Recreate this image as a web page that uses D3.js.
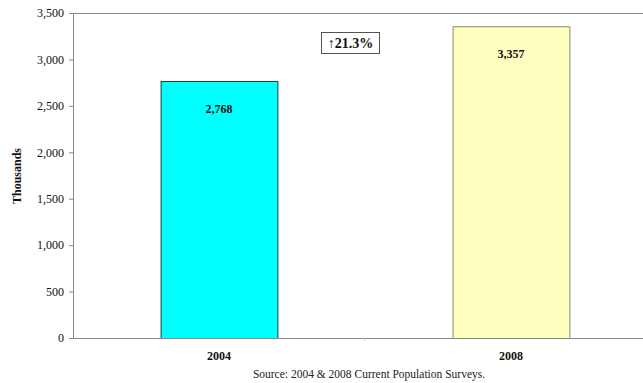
<!DOCTYPE html>
<html><head><meta charset="utf-8">
<script src="https://cdn.jsdelivr.net/npm/d3@7"></script>
<style>body{margin:0;background:#fff}svg{display:block}</style>
</head><body>
<svg id="c" width="643" height="383"></svg>
<script>
const categories = ["2004", "2008"];
const values = [2768, 3357];
const valueLabels = ["2,768", "3,357"];
const yTicks = [0, 500, 1000, 1500, 2000, 2500, 3000, 3500];
const annotation = "\u219121.3%";
const yTitle = "Thousands";
const source = "Source: 2004 & 2008 Current Population Surveys.";
const fills = ["#00FFFF", "#FFFFC0"];
const strokes = ["#1a3a3a", "#8a8a6a"];
const FONT = "'Liberation Serif', 'Times New Roman', 'DejaVu Serif', serif";

const svg = d3.select("#c");
const m = {l: 73, t: 13, r: 657, b: 338};
const x = d3.scaleBand().domain(categories).range([m.l, m.r]).paddingInner(0.6).paddingOuter(0.3);
const xb = d3.scaleBand().domain(categories).range([m.l, m.r]);
const y = d3.scaleLinear().domain([0, 3500]).range([m.b, m.t]);

svg.append("line").attr("x1", m.l).attr("x2", 643).attr("y1", m.t + 0.5).attr("y2", m.t + 0.5).attr("stroke", "#888");

const ya = svg.append("g").attr("transform", `translate(${m.l},0)`)
  .call(d3.axisLeft(y).tickValues(yTicks).tickSize(4).tickFormat(d3.format(",")));
ya.attr("font-family", null);
ya.select(".domain").attr("stroke", "#888");
ya.selectAll(".tick line").attr("stroke", "#888");
ya.selectAll(".tick text").attr("font-size", 12).attr("fill", "#111").attr("x", -9);

svg.selectAll("rect.bar").data(values).join("rect").attr("class", "bar")
  .attr("x", (d, i) => x(categories[i]) + 0.5).attr("width", x.bandwidth())
  .attr("y", d => y(d) + 0.5).attr("height", d => y(0) - y(d))
  .attr("fill", (d, i) => fills[i]).attr("stroke", (d, i) => strokes[i]);

const xa = svg.append("g").attr("transform", `translate(0,${m.b})`)
  .call(d3.axisBottom(xb).tickSize(0).tickPadding(13));
xa.attr("font-family", null);
xa.select(".domain").attr("stroke", "#888");
xa.selectAll(".tick text").attr("font-size", 12).attr("font-weight", "bold").attr("fill", "#111");
svg.append("line").attr("x1", xb("2008")).attr("x2", xb("2008")).attr("y1", m.b).attr("y2", m.b + 3).attr("stroke", "#ccc");

svg.selectAll("text.vl").data(values).join("text").attr("class", "vl")
  .attr("x", (d, i) => x(categories[i]) + x.bandwidth() / 2).attr("y", d => y(d) + 32)
  .attr("text-anchor", "middle").attr("font-size", 12).attr("font-weight", "bold").attr("fill", "#111")
  .text((d, i) => valueLabels[i]);

svg.append("rect").attr("x", 321.5).attr("y", 32.5).attr("width", 58).attr("height", 21)
  .attr("fill", "#fff").attr("stroke", "#555");
svg.append("text").attr("x", 350.5).attr("y", 48).attr("text-anchor", "middle")
  .attr("font-size", 14).attr("font-weight", "bold").attr("fill", "#111").text(annotation);

svg.append("text").attr("transform", "translate(21,176) rotate(-90)").attr("text-anchor", "middle")
  .attr("font-size", 12).attr("font-weight", "bold").attr("fill", "#111").text(yTitle);

svg.append("text").attr("x", 369).attr("y", 378).attr("text-anchor", "middle")
  .attr("font-size", 11.5).attr("fill", "#222").text(source);

svg.selectAll("text").style("font-family", FONT);
</script>
</body></html>
